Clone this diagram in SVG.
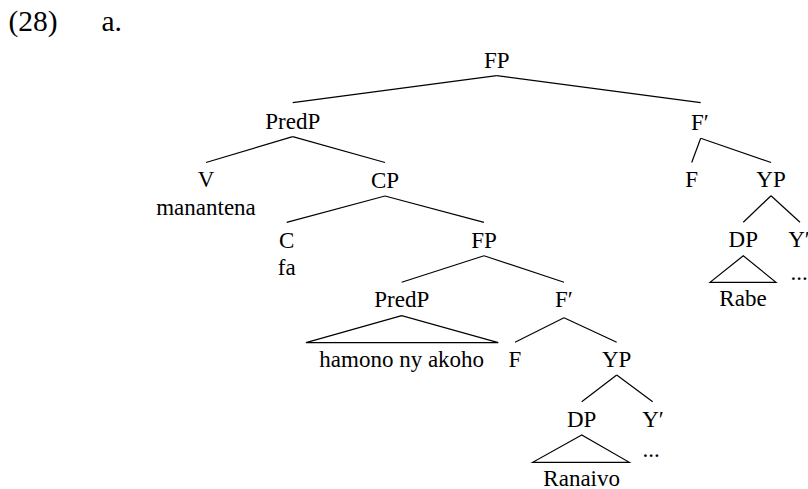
<svg xmlns="http://www.w3.org/2000/svg" width="808" height="489" viewBox="0 0 808 489" font-family="'Liberation Serif', Tinos, 'Times New Roman', 'DejaVu Serif', serif">
<style>
text { font-family: "Liberation Serif", Tinos, "Times New Roman", "DejaVu Serif", serif; font-size: 23px; fill: #000; text-anchor: middle; }
.hdr { font-size: 29.5px; text-anchor: start; }
.edge { stroke: #000; stroke-width: 1.2; fill: none; }
</style>
<rect width="808" height="489" fill="#fff"/>
<g id="header">
<text class="hdr" x="8.5" y="31">(28)</text>
<text class="hdr" x="101.5" y="31">a.</text>
</g>
<g id="connectors">
<line class="edge" x1="496.7" y1="75.7" x2="292.7" y2="102.7"/>
<line class="edge" x1="496.7" y1="75.7" x2="700.7" y2="102.7"/>
<line class="edge" x1="292.7" y1="136.7" x2="206" y2="162.5"/>
<line class="edge" x1="292.7" y1="136.7" x2="385" y2="162.5"/>
<line class="edge" x1="385" y1="196" x2="286.7" y2="222.3"/>
<line class="edge" x1="385" y1="196" x2="484" y2="222.3"/>
<line class="edge" x1="484" y1="255.7" x2="401.7" y2="282.3"/>
<line class="edge" x1="484" y1="255.7" x2="564" y2="282.3"/>
<polygon class="edge" points="401.7,315.7 306,342.7 498.3,342.7"/>
<line class="edge" x1="564" y1="317.7" x2="515" y2="342.3"/>
<line class="edge" x1="564" y1="317.7" x2="616.7" y2="342.3"/>
<line class="edge" x1="616.7" y1="375" x2="581.7" y2="401.7"/>
<line class="edge" x1="616.7" y1="375" x2="652.7" y2="401.7"/>
<polygon class="edge" points="581.7,435 532.7,462.3 629.3,462.3"/>
<line class="edge" x1="700.7" y1="138.3" x2="691.7" y2="162.5"/>
<line class="edge" x1="700.7" y1="138.3" x2="771" y2="162.5"/>
<line class="edge" x1="771" y1="195.7" x2="743.3" y2="222.3"/>
<line class="edge" x1="771" y1="195.7" x2="800" y2="222.3"/>
<polygon class="edge" points="743.3,255.7 710,282.3 776,282.3"/>
</g>
<g id="n-FP-root"><text x="496.7" y="68">FP</text></g>
<g id="n-PredP-1"><text x="292.7" y="128.5">PredP</text></g>
<g id="n-Fbar-1"><text x="700" y="129.5">F′</text></g>
<g id="n-V"><text x="206" y="187">V</text><text x="206" y="215">manantena</text></g>
<g id="n-CP"><text x="385" y="188">CP</text></g>
<g id="n-C"><text x="286.7" y="248.3">C</text><text x="286.7" y="275">fa</text></g>
<g id="n-FP-2"><text x="484" y="248.3">FP</text></g>
<g id="n-PredP-2"><text x="401.7" y="307">PredP</text><text x="401.7" y="366.7">hamono ny akoho</text></g>
<g id="n-Fbar-2"><text x="564" y="307">F′</text></g>
<g id="n-F-2"><text x="515" y="366.7">F</text></g>
<g id="n-YP-2"><text x="616.7" y="366.7">YP</text></g>
<g id="n-DP-2"><text x="581.7" y="426.7">DP</text><text x="581.7" y="485.5">Ranaivo</text></g>
<g id="n-Ybar-2"><text x="653" y="426.7">Y′</text><text x="651" y="457">...</text></g>
<g id="n-F-1"><text x="691.7" y="186.7">F</text></g>
<g id="n-YP-1"><text x="771" y="186.7">YP</text></g>
<g id="n-DP-1"><text x="743.3" y="247.3">DP</text><text x="743" y="306">Rabe</text></g>
<g id="n-Ybar-1"><text x="799" y="247.3">Y′</text><text x="799" y="280">...</text></g>
</svg>
